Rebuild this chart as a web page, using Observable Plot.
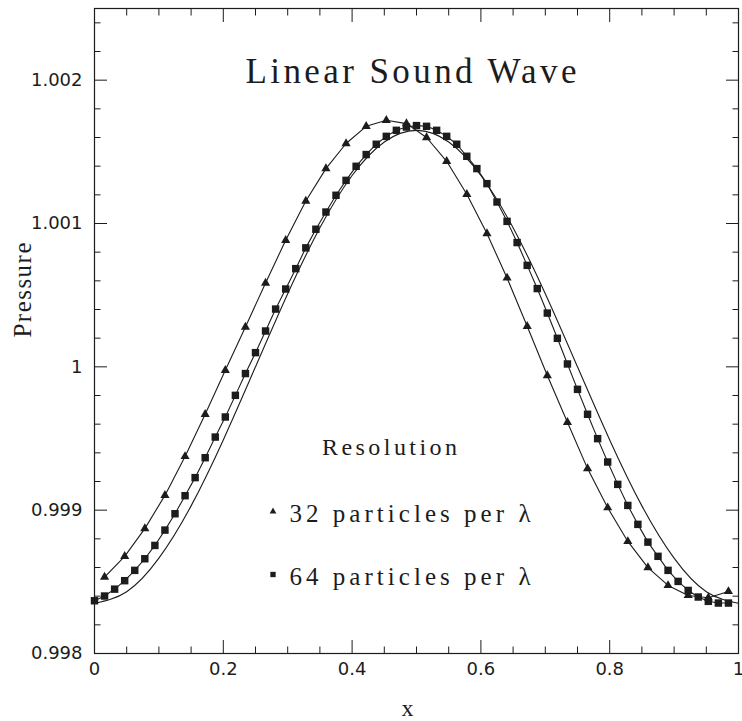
<!DOCTYPE html>
<html><head><meta charset="utf-8">
<script src="https://cdn.jsdelivr.net/npm/d3@7"></script>
<script src="https://cdn.jsdelivr.net/npm/@observablehq/plot@0.6"></script>
<style>body{margin:0;background:#fff}</style>
</head><body><div id="chart"></div>
<script>
// ---- data ----
const xTri = [0.015625,0.046875,0.078125,0.109375,0.140625,0.171875,0.203125,0.234375,
  0.265625,0.296875,0.328125,0.359375,0.390625,0.421875,0.453125,0.484375,
  0.515625,0.546875,0.578125,0.609375,0.640625,0.671875,0.703125,0.734375,
  0.765625,0.796875,0.828125,0.859375,0.890625,0.921875,0.953125,0.984375];
const pTri = [0.998533,0.998678,0.998871,0.999103,0.999375,0.999669,0.999976,1.000278,
  1.000585,1.000883,1.001157,1.001383,1.001558,1.001678,1.001720,1.001697,
  1.001600,1.001434,1.001204,1.000930,1.000620,1.000283,0.999939,0.999613,
  0.999290,0.999017,0.998782,0.998599,0.998475,0.998405,0.998389,0.998433];
const xSq = [0,0.015625,0.03125,0.046875,0.0625,0.078125,0.09375,0.109375,
  0.125,0.140625,0.15625,0.171875,0.1875,0.203125,0.21875,0.234375,
  0.25,0.265625,0.28125,0.296875,0.3125,0.328125,0.34375,0.359375,
  0.375,0.390625,0.40625,0.421875,0.4375,0.453125,0.46875,0.484375,
  0.5,0.515625,0.53125,0.546875,0.5625,0.578125,0.59375,0.609375,
  0.625,0.640625,0.65625,0.671875,0.6875,0.703125,0.71875,0.734375,
  0.75,0.765625,0.78125,0.796875,0.8125,0.828125,0.84375,0.859375,
  0.875,0.890625,0.90625,0.921875,0.9375,0.953125,0.96875,0.984375];
const pSq = [0.998368,0.998401,0.998449,0.998508,0.998580,0.998661,0.998754,0.998861,
  0.998975,0.999101,0.999227,0.999366,0.999510,0.999650,0.999801,0.999953,
  1.000099,1.000250,1.000403,1.000543,1.000685,1.000830,1.000960,1.001080,
  1.001197,1.001301,1.001399,1.001481,1.001553,1.001608,1.001650,1.001673,
  1.001683,1.001678,1.001650,1.001608,1.001553,1.001469,1.001383,1.001278,
  1.001150,1.001015,1.000867,1.000708,1.000546,1.000375,1.000199,1.000020,
  0.999843,0.999669,0.999499,0.999336,0.999180,0.999033,0.998901,0.998777,
  0.998678,0.998580,0.998503,0.998440,0.998394,0.998364,0.998352,0.998352];
const xExact = [0,0.05,0.1,0.15,0.2,0.25,0.3,0.35,0.4,0.45,0.5,
  0.55,0.6,0.65,0.7,0.75,0.8,0.85,0.9,0.95,1];
const pExact = [0.998350,0.998431,0.998665,0.999030,0.999490,1.000000,1.000510,1.000970,1.001335,1.001569,1.001650,
  1.001569,1.001335,1.000970,1.000510,1.000000,0.999490,0.999030,0.998665,0.998431,0.998350];

const xMajor = [0,0.2,0.4,0.6,0.8,1];
const xMajorLabels = ["0","0.2","0.4","0.6","0.8","1"];
const xMinor = [0.05,0.1,0.15,0.25,0.3,0.35,0.45,0.5,0.55,0.65,0.7,0.75,0.85,0.9,0.95];
const yMajor = [0.998,0.999,1,1.001,1.002];
const yMajorLabels = ["0.998","0.999","1","1.001","1.002"];
const yMinor = [0.9982,0.9984,0.9986,0.9988,0.9992,0.9994,0.9996,0.9998,
  1.0002,1.0004,1.0006,1.0008,1.0012,1.0014,1.0016,1.0018,1.0022,1.0024];

const titleText = "Linear Sound Wave";
const legendTitle = "Resolution";
const seriesLabels = ["32 particles per λ","64 particles per λ"];
const xLabel = "x";
const yLabel = "Pressure";

// ---- build ----
const tri = xTri.map((x,i)=>({x, p:pTri[i]}));
const sq = xSq.map((x,i)=>({x, p:pSq[i]}));
const exact = xExact.map((x,i)=>({x, p:pExact[i]}));

const ink = "#1c1c1c";
const serif = "Liberation Serif";
const sans = "DejaVu Sans";

const plot = Plot.plot({
  width: 742, height: 721,
  marginLeft: 94, marginRight: 4, marginTop: 8, marginBottom: 68,
  x: {domain: [0, 1]},
  y: {domain: [0.998, 1.0025]},
  style: {background: "#fff", color: ink, fontFamily: sans, fontSize: "18px"},
  marks: [
    Plot.frame({stroke: ink, strokeWidth: 1.2}),
    // major/minor ticks (inward) on all four sides
    Plot.axisX(xMajor, {anchor: "bottom", tickSize: -13, fill: "none", label: null, stroke: ink}),
    Plot.axisX(xMinor, {anchor: "bottom", tickSize: -6.5, fill: "none", label: null, stroke: ink}),
    Plot.axisX(xMajor, {anchor: "top", tickSize: -13, fill: "none", label: null, stroke: ink}),
    Plot.axisX(xMinor, {anchor: "top", tickSize: -6.5, fill: "none", label: null, stroke: ink}),
    Plot.axisY(yMajor, {anchor: "left", tickSize: -13, fill: "none", label: null, stroke: ink}),
    Plot.axisY(yMinor, {anchor: "left", tickSize: -6.5, fill: "none", label: null, stroke: ink}),
    Plot.axisY(yMajor, {anchor: "right", tickSize: -13, fill: "none", label: null, stroke: ink}),
    Plot.axisY(yMinor, {anchor: "right", tickSize: -6.5, fill: "none", label: null, stroke: ink}),
    // tick labels
    Plot.axisX(xMajor, {anchor: "bottom", tickSize: 0, tickPadding: 9, label: null,
      tickFormat: d => xMajorLabels[xMajor.indexOf(d)], fill: ink}),
    Plot.axisY(yMajor, {anchor: "left", tickSize: 0, tickPadding: 12, label: null,
      tickFormat: d => yMajorLabels[yMajor.indexOf(d)], fill: ink}),
    // curves
    Plot.line(exact, {x: "x", y: "p", curve: "natural", stroke: ink, strokeWidth: 1.1}),
    Plot.line(tri, {x: "x", y: "p", stroke: ink, strokeWidth: 1.1}),
    Plot.line(sq, {x: "x", y: "p", stroke: ink, strokeWidth: 1.1}),
    Plot.dot(tri, {x: "x", y: "p", symbol: "triangle", r: 3.4, fill: ink, stroke: "none"}),
    Plot.dot(sq, {x: "x", y: "p", symbol: "square", r: 4.2, fill: ink, stroke: "none"}),
    // title
    Plot.text([titleText], {text: d => d, frameAnchor: "top", dx: -5.5, dy: 74, lineAnchor: "bottom",
      fontFamily: serif, fontSize: 35, fill: ink}),
    // legend
    Plot.text([legendTitle], {text: d => d, frameAnchor: "top-left", dx: 295, dy: 446, lineAnchor: "bottom",
      textAnchor: "middle", fontFamily: serif, fontSize: 24, fill: ink}),
    Plot.dot([0], {frameAnchor: "top-left", dx: 178.5, dy: 503, symbol: "triangle", r: 2.5, fill: ink}),
    Plot.dot([0], {frameAnchor: "top-left", dx: 178.5, dy: 566, symbol: "square", r: 3, fill: ink}),
    Plot.text([seriesLabels[0]], {text: d => d, frameAnchor: "top-left", dx: 195, dy: 513, lineAnchor: "bottom",
      textAnchor: "start", fontFamily: serif, fontSize: 25, fill: ink}),
    Plot.text([seriesLabels[1]], {text: d => d, frameAnchor: "top-left", dx: 195, dy: 576, lineAnchor: "bottom",
      textAnchor: "start", fontFamily: serif, fontSize: 25, fill: ink}),
    // axis labels
    Plot.text([xLabel], {text: d => d, frameAnchor: "bottom", dx: -9, dy: 62, lineAnchor: "bottom",
      fontFamily: serif, fontSize: 24, fill: ink}),
    Plot.text([yLabel], {text: d => d, frameAnchor: "left", dx: -72, dy: 6.5, rotate: -90, lineAnchor: "middle",
      fontFamily: serif, fontSize: 25, fill: ink})
  ]
});

// stretch letter spacing like the original stroke font
const lengths = new Map([[titleText, 331], [legendTitle, 135], [seriesLabels[0], 241], [seriesLabels[1], 241], [yLabel, 95]]);
plot.querySelectorAll("text").forEach(t => {
  const L = lengths.get(t.textContent);
  if (L) { t.setAttribute("textLength", L); t.setAttribute("lengthAdjust", "spacing"); }
});
document.getElementById("chart").appendChild(plot);
</script>
</body></html>
